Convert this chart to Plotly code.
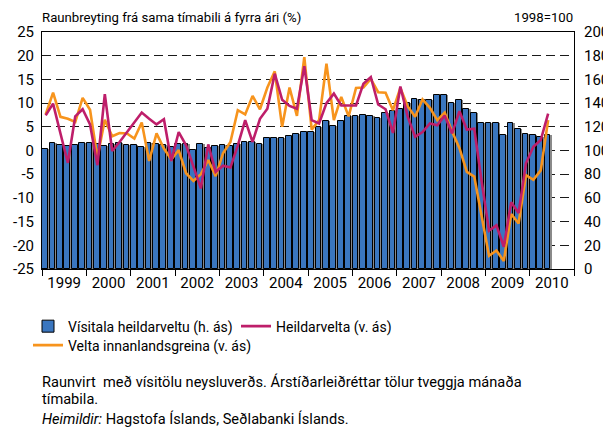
import plotly.graph_objects as go

# ---------------- data ----------------
years = ["1999", "2000", "2001", "2002", "2003", "2004", "2005",
         "2006", "2007", "2008", "2009", "2010"]

# Vísitala heildarveltu (h. ás), 1998=100, two-month periods Jan/Feb 1999 .. May/Jun 2010
index_total = [
    101, 106, 105, 104, 104.5, 106,
    106.5, 105.5, 104, 105.5, 106, 105,
    104.5, 103, 106.5, 105.5, 105, 103,
    105.9, 105.9, 100.3, 105.3, 101.7, 103.4,
    105, 103.4, 105.3, 107, 107.3, 105.9,
    110.9, 110.4, 110.7, 112, 114.3, 116,
    116, 120, 124.5, 120.3, 124.5, 129,
    129, 130, 129, 127.6, 132, 133.7,
    135, 140, 143.5, 143, 143, 147,
    146.5, 140.5, 142.5, 135, 132, 123.5,
    123, 123, 113.5, 123, 118, 114,
    113, 111, 113,
]

# Heildarvelta (v. ás), % change from same period previous year
total_turnover = [
    7.4, 9.9, 3.6, -2.6, 7.2, 8.7,
    5.5, -3.1, 11.9, -0.1, 1.8, 3.9,
    6.0, 8.0, 6.7, 5.5, 6.6, -2.2,
    3.9, 1.1, -3.4, -8.0, 1.3, -4.5,
    -3.2, -3.6, 1.1, 6.4, 1.8, 6.7,
    8.8, 16.2, 10.7, 9.4, 8.8, 17.8,
    6.4, 5.7, 10.0, 12.0, 9.5, 9.5,
    9.5, 14.1, 15.5, 9.7, 8.7, 3.7,
    13.5, 7.1, 2.9, 3.9, 5.7, 5.3,
    7.4, 3.6, 8.3, 4.4, 4.6, -6.5,
    -16.9, -15.8, -20.3, -10.9, -13.2, -2.7,
    0.8, 2.2, 7.8,
]

# Velta innanlandsgreina (v. ás), % change from same period previous year
domestic_turnover = [
    7.6, 12.2, 7.1, 6.7, 6.0, 11.1,
    8.6, -1.5, 6.5, 3.0, 3.7, 3.6,
    2.5, 5.9, -2.2, 3.6, 0.4, -1.9,
    0.1, -4.8, -6.4, -5.0, -2.0, -5.4,
    -0.6, 1.8, 8.5, 7.6, 11.5, 8.7,
    13.3, 16.7, 5.0, 13.3, 7.3, 19.7,
    4.4, 6.4, 18.3, 6.4, 11.3, 7.2,
    13.2, 13.3, 15.1, 12.3, 12.2, 8.5,
    13.2, 9.3, 7.1, 10.8, 9.0, 6.4,
    8.0, 4.0, 0.5, -4.5, -5.5, -14.3,
    -22.2, -21.1, -23.3, -13.4, -15.4, -5.2,
    -6.2, -4.2, 6.4,
]

left_ticks = [-25, -20, -15, -10, -5, 0, 5, 10, 15, 20, 25]
right_ticks = [0, 20, 40, 60, 80, 100, 120, 140, 160, 180, 200]

PER_YEAR = 6
# --------------------------------------

x = [i + 0.5 for i in range(len(index_total))]
year_centres = [PER_YEAR * i + PER_YEAR / 2 for i in range(len(years))]
year_edges = [PER_YEAR * i for i in range(len(years) + 1)]

# the page has an 8px body margin, so the figure is sized to fill the rest
OFF = 8
W, H = 611 - OFF, 430 - OFF
# plot area in page pixels
PL, PR, PT, PB = 42, 574, 31.5, 269.3
L, R, T, B = PL - OFF, PR - OFF, PT - OFF, PB - OFF


def pxx(v):
    """page x pixel -> paper coordinate"""
    return (v - PL) / (PR - PL)


def pxy(v):
    """page y pixel -> paper coordinate"""
    return (PB - v) / (PB - PT)


BLUE = "#3A76BF"
ORANGE = "#F7941D"
MAGENTA = "#BE1E6A"
FONT = "Roboto"

fig = go.Figure()

# bar shadow
fig.add_trace(go.Bar(
    x=x, y=index_total, yaxis="y", width=0.78, offset=-0.28,
    marker=dict(color="#8a8a8a", line=dict(width=0)),
    showlegend=False, hoverinfo="skip",
))
fig.add_trace(go.Bar(
    x=x, y=index_total, yaxis="y", width=0.78, offset=-0.47,
    marker=dict(color=BLUE, line=dict(color="black", width=1)),
    name="Vísitala heildarveltu (h. ás)", legend="legend",
))
fig.add_trace(go.Scatter(
    x=x, y=domestic_turnover, yaxis="y2", mode="lines",
    line=dict(color=ORANGE, width=2.6),
    name="Velta innanlandsgreina (v. ás)", legend="legend2",
))
fig.add_trace(go.Scatter(
    x=x, y=total_turnover, yaxis="y2", mode="lines",
    line=dict(color=MAGENTA, width=2.6),
    name="Heildarvelta (v. ás)", legend="legend",
))

fig.update_layout(
    width=W, height=H,
    margin=dict(l=L, r=W - R, t=T, b=H - B, pad=0, autoexpand=False),
    paper_bgcolor="white", plot_bgcolor="white",
    font=dict(family=FONT, size=15, color="black"),
    barmode="overlay", bargap=0,
    xaxis=dict(
        range=[0, PER_YEAR * len(years)],
        tickmode="array", tickvals=year_centres, ticktext=years,
        ticks="", showgrid=False, zeroline=False,
        showline=True, linecolor="black", linewidth=1, mirror=True,
        tickfont=dict(size=15),
        minor=dict(tickmode="array", tickvals=year_edges, ticks="outside",
                   ticklen=6, tickwidth=1, tickcolor="black", showgrid=False),
    ),
    yaxis=dict(
        side="right", range=[0, 200],
        tickmode="array", tickvals=right_ticks,
        ticktext=[str(v) for v in right_ticks],
        showgrid=True, gridcolor="#1a1a1a", gridwidth=1, griddash="9px,5px",
        zeroline=False, showline=True, linecolor="black", linewidth=1,
        ticks="", tickfont=dict(size=15), ticklabelstandoff=6,
    ),
    yaxis2=dict(
        side="left", overlaying="y", range=[-25, 25],
        tickmode="array", tickvals=left_ticks,
        ticktext=[str(v) for v in left_ticks],
        showgrid=False, zeroline=False,
        showline=True, linecolor="black", linewidth=1,
        ticks="", tickfont=dict(size=15), ticklabelstandoff=4,
    ),
    legend=dict(
        orientation="h", x=pxx(28), y=pxy(311), xanchor="left", yanchor="top",
        font=dict(size=14), entrywidth=163, entrywidthmode="pixels",
        bgcolor="rgba(0,0,0,0)", tracegroupgap=0,
    ),
    legend2=dict(
        orientation="h", x=pxx(28), y=pxy(330), xanchor="left", yanchor="top",
        font=dict(size=14), bgcolor="rgba(0,0,0,0)",
    ),
    annotations=[
        dict(text="Raunbreyting frá sama tímabili á fyrra ári (%)",
             xref="paper", yref="paper", x=pxx(40), y=pxy(17),
             xanchor="left", yanchor="middle", showarrow=False,
             font=dict(size=13.2)),
        dict(text="1998=100",
             xref="paper", yref="paper", x=pxx(575), y=pxy(17),
             xanchor="right", yanchor="middle", showarrow=False,
             font=dict(size=13.2)),
        dict(text="Raunvirt  með vísitölu neysluverðs. Árstíðarleiðréttar tölur tveggja mánaða",
             xref="paper", yref="paper", x=pxx(40), y=pxy(383),
             xanchor="left", yanchor="middle", showarrow=False,
             font=dict(size=14.6)),
        dict(text="tímabila.",
             xref="paper", yref="paper", x=pxx(40), y=pxy(400),
             xanchor="left", yanchor="middle", showarrow=False,
             font=dict(size=14.6)),
        dict(text="<i>Heimildir:</i> Hagstofa Íslands, Seðlabanki Íslands.",
             xref="paper", yref="paper", x=pxx(40), y=pxy(420),
             xanchor="left", yanchor="middle", showarrow=False,
             font=dict(size=14.6)),
    ],
)

fig.write_html("out.html")
